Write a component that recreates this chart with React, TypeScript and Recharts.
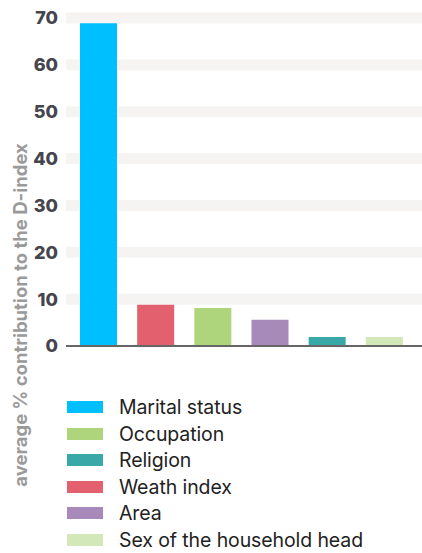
import { BarChart, Bar, Cell, XAxis, YAxis, CartesianGrid, Legend } from "recharts";

const categories = ["Marital status", "Weath index", "Occupation", "Area", "Religion", "Sex of the household head"];
const values = [68.9, 8.8, 8.1, 5.6, 1.9, 1.9];
const colors = ["#00bfff", "#e3616e", "#aed47c", "#a78aba", "#3aa8a6", "#d2e8b8"];
const legendOrder = ["Marital status", "Occupation", "Religion", "Weath index", "Area", "Sex of the household head"];
const yTicks = [0, 10, 20, 30, 40, 50, 60, 70];
const gridValues = [10, 20, 30, 40, 50, 60, 70];

const data = categories.map((name, i) => ({ name, value: values[i], color: colors[i] }));

function LegendList() {
  return (
    <div>
      {legendOrder.map((name) => {
        const c = colors[categories.indexOf(name)];
        return (
          <div key={name} style={{ display: "flex", alignItems: "center", height: 26.5 }}>
            <span style={{ display: "inline-block", width: 36, height: 12, background: c, marginRight: 16 }} />
            <span style={{ fontFamily: "Inter, sans-serif", fontSize: 19.5, color: "#222", letterSpacing: -0.1 }}>{name}</span>
          </div>
        );
      })}
    </div>
  );
}

function YLabel() {
  return (
    <text
      x={20}
      y={315}
      transform="rotate(-90, 20, 315)"
      textAnchor="middle"
      dominantBaseline="central"
      fill="#9a9a9a"
      fontFamily="Inter, sans-serif"
      fontWeight={700}
      fontSize={18.5}
    >
      average % contribution to the D-index
    </text>
  );
}

export default function App() {
  return (
    <div style={{ position: "absolute", left: 0, top: 0 }}>
      <BarChart width={422} height={553} data={data} margin={{ top: 18, right: 0, left: 0, bottom: 206 }}>
        <CartesianGrid vertical={false} horizontalValues={gridValues} stroke="#f5f4f2" strokeWidth={11} />
        <XAxis
          dataKey="name"
          tick={false}
          tickLine={false}
          height={1}
          padding={{ left: 4, right: 9 }}
          axisLine={{ stroke: "#666", strokeWidth: 2 }}
        />
        <YAxis
          domain={[0, 70]}
          ticks={yTicks}
          width={66}
          axisLine={false}
          tickLine={false}
          tick={{ fill: "#45454d", fontSize: 18, fontWeight: 800, fontFamily: "Inter, sans-serif" }}
          label={<YLabel />}
        />
        <Legend
          layout="horizontal"
          verticalAlign="middle"
          align="center"
          content={() => <LegendList />}
          wrapperStyle={{ position: "absolute", left: 67, top: 394, width: 340, height: 160 }}
        />
        <Bar dataKey="value" barSize={37} isAnimationActive={false}>
          {data.map((d) => (
            <Cell key={d.name} fill={d.color} />
          ))}
        </Bar>
      </BarChart>
    </div>
  );
}
